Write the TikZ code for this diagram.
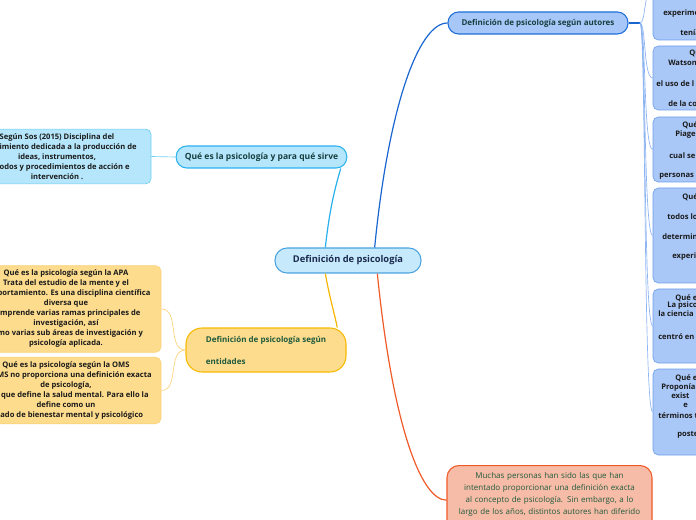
\documentclass[tikz,border=0pt]{standalone}
\usepackage{fontspec}
\setmainfont{Open Sans}
\definecolor{fondocentro}{HTML}{C6E9FB}
\definecolor{bordecentro}{HTML}{4AA3DF}
\definecolor{textocentro}{HTML}{1B2A4E}
\definecolor{fondoautores}{HTML}{A7C7F8}
\definecolor{bordeautores}{HTML}{1E6FD9}
\definecolor{fondosirve}{HTML}{B5E6FB}
\definecolor{bordesirve}{HTML}{2BB3EE}
\definecolor{bordesos}{HTML}{6FCFF3}
\definecolor{fondoentidades}{HTML}{FDDC8E}
\definecolor{bordeentidades}{HTML}{F7B900}
\definecolor{bordehojas}{HTML}{FBD37A}
\definecolor{fondocajas}{HTML}{A9C7F7}
\definecolor{bordecajas}{HTML}{6E9FEC}
\definecolor{fondonota}{HTML}{F7BCA7}
\definecolor{bordenota}{HTML}{F05A28}
\definecolor{textorama}{HTML}{173F3F}
\definecolor{textoverde}{HTML}{1E5A3C}
\definecolor{textohoja}{HTML}{1A1A1A}
\definecolor{lineaautores}{HTML}{1A66D0}
\definecolor{lineasirve}{HTML}{29B0EC}
\definecolor{lineaentidades}{HTML}{F8B500}
\definecolor{linearoja}{HTML}{F05A28}
\definecolor{lineacajas}{HTML}{8DB4F2}
\tikzset{
  raiz/.style={draw=bordecentro, fill=fondocentro, line width=0.8pt, rounded corners=9pt,
    text=textocentro, font=\bfseries\fontsize{7}{8.5}\selectfont,
    minimum width=109.5pt, minimum height=18.75pt},
  rama/.style={line width=0.8pt, rounded corners=8pt, text=textorama,
    font=\bfseries\fontsize{6}{7.5}\selectfont, minimum height=16.5pt},
  hoja/.style={line width=0.5pt, rounded corners=4pt, align=center, text=textohoja,
    font=\bfseries\fontsize{5.7}{7.5}\selectfont},
  caja/.style={draw=bordecajas, fill=fondocajas, line width=0.5pt, rounded corners=4pt,
    minimum width=112.5pt},
  trozo/.style={font=\bfseries\fontsize{5.7}{7.5}\selectfont, text=textohoja,
    inner sep=0pt, anchor=west},
  enlace/.style={line width=0.9pt},
  fino/.style={line width=0.5pt}
}
\begin{document}
\begin{tikzpicture}[x=0.75pt,y=-0.75pt]
\useasboundingbox (0,0) rectangle (696,520);
\clip (0,0) rectangle (696,520);
% nodo central y ramas
\node[raiz] (centro) at (348,260.5) {Definición de psicología};
\node[rama, draw=bordeautores, fill=fondoautores, minimum width=135pt] (autores) at (538,23)
  {Definición de psicología según autores};
\node[rama, draw=bordesirve, fill=fondosirve, minimum width=128pt,
  font=\bfseries\fontsize{6.4}{7.5}\selectfont] (sirve) at (261.5,157)
  {Qué es la psicología y para qué sirve};
\node[rama, draw=bordeentidades, fill=fondoentidades, text=textoverde, align=left,
  rounded corners=12pt, minimum width=120pt, minimum height=33pt] (entidades) at (266,350)
  {Definición de psicología según\\[9pt]entidades};
% hojas de la izquierda
\node[hoja, draw=bordesos, fill=fondosirve, minimum width=141pt, minimum height=41pt] (sos) at (57,156.5)
  {Según Sos (2015) Disciplina del\\conocimiento dedicada a la producción de\\ideas, instrumentos,\\métodos y procedimientos de acción e\\intervención .};
\node[hoja, draw=bordehojas, fill=fondoentidades, minimum width=142.5pt, minimum height=64.5pt] (apa) at (66,309)
  {Qué es la psicología según la APA\\Trata del estudio de la mente y el\\comportamiento. Es una disciplina científica\\diversa que\\comprende varias ramas principales de\\investigación, así\\como varias sub áreas de investigación y\\psicología aplicada.};
\node[hoja, draw=bordehojas, fill=fondoentidades, minimum width=142.5pt, minimum height=48.75pt] (oms) at (66,390.5)
  {Qué es la psicología según la OMS\\La OMS no proporciona una definición exacta\\de psicología,\\sino que define la salud mental. Para ello la\\define como un\\estado de bienestar mental y psicológico};
% nota de abajo
\node[draw=bordenota, fill=fondonota, line width=0.8pt, rounded corners=9pt, anchor=north,
  minimum width=153.75pt, minimum height=52pt, text width=145pt, align=center, text=textoverde,
  font=\fontsize{6}{9}\selectfont, inner ysep=4pt] (nota) at (549.5,465)
  {Muchas personas han sido las que han\\intentado proporcionar una definición exacta\\al concepto de psicología. Sin embargo, a lo\\largo de los años, distintos autores han diferido\\en su opinión sobre la psicología.};
% cajas de autores (cortadas por el borde)
\foreach \y/\h [count=\i] in {-10/75, 78/48, 149.5/48.75, 235.5/71.25, 326/55.5, 412/64.5}
  \node[caja, minimum height=\h pt] (autor\i) at (728,\y) {};
\foreach \x/\y/\t [count=\k] in {663/14/experime, 680/33/tenía,
    689/53/Qué, 668/63/Watson, 656/84/el uso de l, 668/104/de la co,
    682/125/Qué, 675/135/Piage, 669/156/cual se, 659/176/personas c,
    682/197/Qué, 667/217/todos lo, 662/237/determin, 672/257/experi,
    675/298/Qué e, 667/306/La psico, 658/314/la ciencia, 658/337/centró en,
    675/378/Qué e, 661/388/Proponía, 671/396/exist, 683/405/e, 658/416/términos t, 677/435/poste}
  \node[trozo] (trozo\k) at (\x,\y) {\t};
% enlaces
\draw[enlace, color=lineaautores] ([xshift=20pt]centro.north) .. controls (388,110) and (418,23) .. (autores.west);
\draw[enlace, color=lineasirve] ([xshift=-17pt]centro.north) .. controls (330,205) and (336,185) .. ([xshift=-5pt]sirve.south east);
\draw[enlace, color=lineaentidades] ([xshift=-17pt]centro.south) .. controls (330,300) and (335,315) .. ([xshift=-7pt]entidades.north east);
\draw[enlace, color=linearoja] ([xshift=22pt]centro.south) .. controls (392,420) and (420,500) .. (nota.west);
\draw[fino, color=bordesos] (sirve.west) -- (sos.east);
\draw[fino, color=bordehojas] (entidades.west) to[out=180,in=0] (apa.east);
\draw[fino, color=bordehojas] (entidades.west) to[out=180,in=0] (oms.east);
\coordinate (nudo) at (640,23);
\draw[line width=1.2pt, color=lineaautores] (autores.east) -- (nudo);
\foreach \i in {1,...,6}
  \draw[fino, color=lineacajas] (nudo) .. controls ([xshift=4.5pt]nudo) and ([xshift=-7pt]autor\i.west) .. (autor\i.west);
\end{tikzpicture}
\end{document}
